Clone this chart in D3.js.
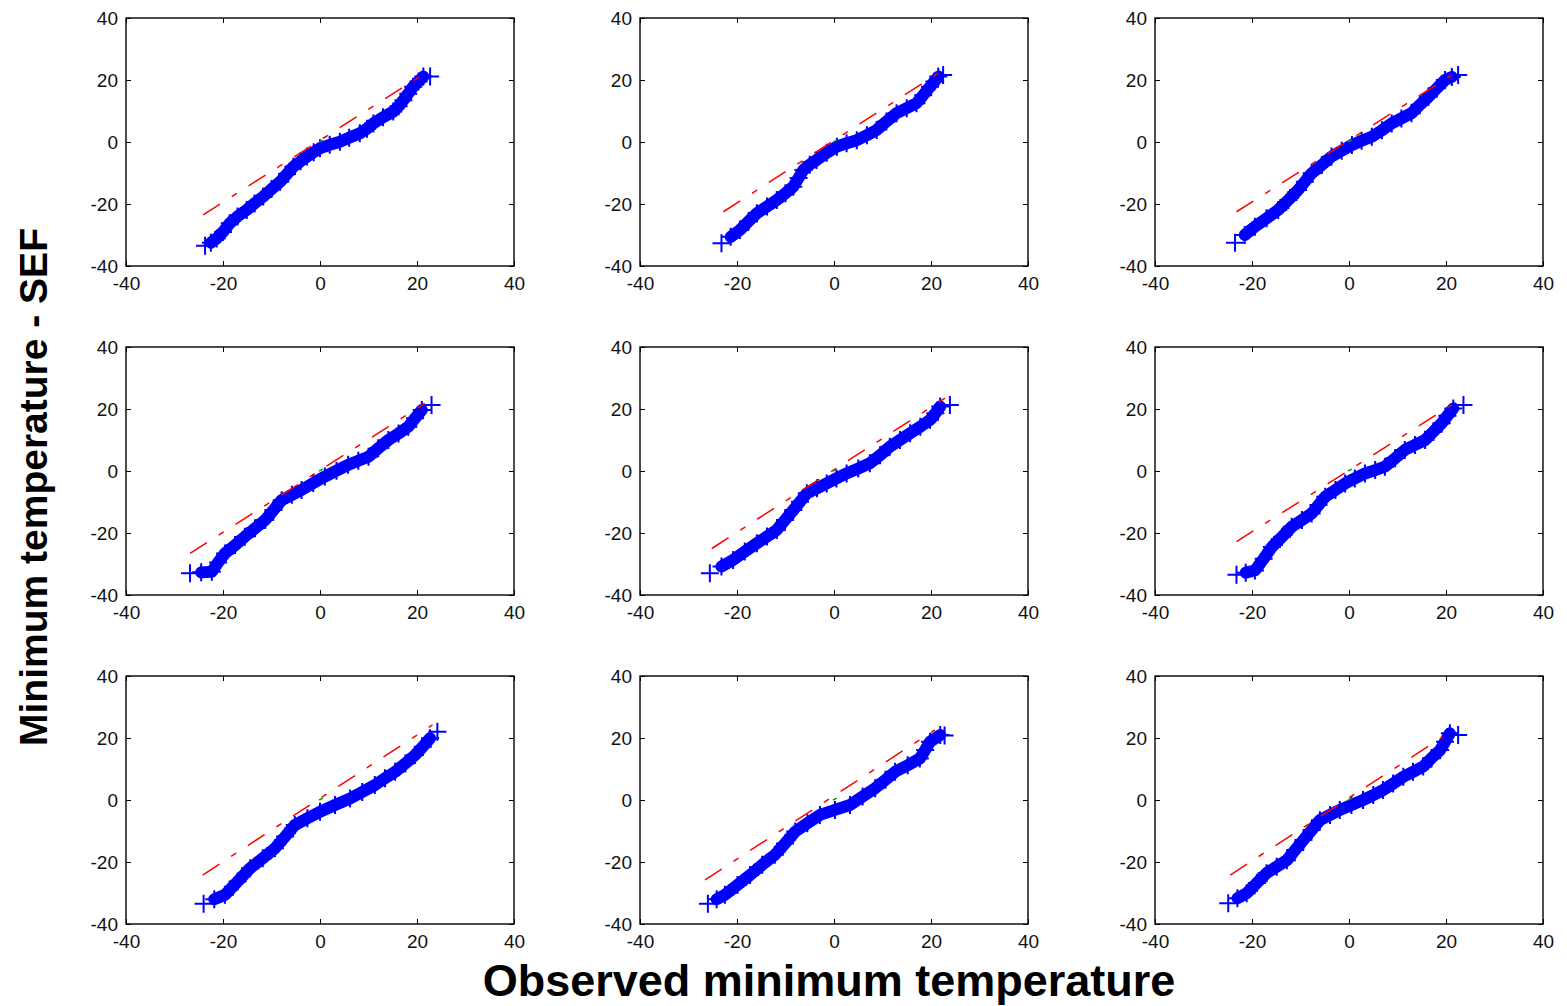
<!DOCTYPE html>
<html>
<head>
<meta charset="utf-8">
<script src="https://cdnjs.cloudflare.com/ajax/libs/d3/7.8.5/d3.min.js"></script>
<style>
  body { margin: 0; background: #fff; }
  svg { display: block; }
</style>
</head>
<body>
<script>
// quantile pairs per panel: [observed, SEF]
const p1 = [[-23.7,-33.5],[-22.5,-32.5],[-21.3,-31.1],[-20,-29],[-18.6,-26.2],[-17,-24],[-15.1,-21.9],[-13.5,-19.8],[-11.7,-17.6],[-10,-15.2],[-8.2,-12.8],[-6.8,-10.3],[-5.5,-8.0],[-4,-6.2],[-2.7,-4.7],[-1.3,-3.3],[0,-2.0],[2,-0.9],[4.1,0.1],[6,1.4],[8.2,2.8],[9.7,4.3],[11,6.0],[13,8.0],[15.1,9.8],[16.2,11.5],[17.2,13.5],[18.2,15.6],[19.2,17.8],[20.3,19.5],[21.3,21.1],[22.7,21.1]];
const p2 = [[-23.2,-32.7],[-21.3,-30.6],[-19.4,-28.4],[-17.6,-25.6],[-15.9,-23.0],[-13.8,-20.8],[-11.8,-18.7],[-10,-16.5],[-8.4,-14.4],[-7.3,-11.6],[-6.3,-9.0],[-5,-7.3],[-3.6,-5.8],[-1.5,-3.5],[0.6,-1.5],[2.6,-0.4],[4.7,0.6],[6.8,2.2],[8.8,3.9],[10.8,6.6],[12.9,9.3],[15,10.9],[17,12.5],[18.4,15.1],[19.8,17.8],[20.7,19.5],[21.5,21.1],[22.5,21.6]];
const p3 = [[-23.5,-32.5],[-21.5,-30],[-19.4,-27.3],[-17,-24.6],[-14.6,-21.9],[-12.5,-18.7],[-10.5,-15.5],[-9.1,-12.8],[-7.7,-10.1],[-5.6,-7.4],[-3.6,-4.7],[-1.5,-2.8],[0.6,-1.0],[2.6,0.4],[4.7,1.7],[6.8,3.8],[8.8,6.0],[10.8,7.6],[12.9,9.3],[14.6,12.0],[16.4,14.6],[18.1,17.3],[19.8,20.0],[21.2,21.0],[22.5,21.6]];
const p4 = [[-26.8,-33.0],[-24.5,-32.7],[-22.3,-32.5],[-21,-29.5],[-19.6,-26.6],[-17.5,-23.9],[-15.5,-21.2],[-13.4,-18.5],[-11.3,-15.8],[-9.6,-12.6],[-7.9,-9.4],[-5.8,-7.7],[-3.8,-6.1],[-1.4,-3.9],[1.0,-1.8],[3.4,0.1],[5.8,2.0],[7.9,3.3],[10,4.6],[12,7.3],[14.1,10.0],[16.2,12.1],[18.2,14.3],[19.6,17.0],[21,19.7],[23,21.3]];
const p5 = [[-25.6,-33.0],[-23.2,-30.8],[-20.8,-28.7],[-18.4,-26],[-15.9,-23.3],[-13.8,-21.1],[-11.8,-19.0],[-10.1,-15.8],[-8.4,-12.6],[-7,-9.9],[-5.6,-7.2],[-3.5,-5.6],[-1.5,-4.0],[0.5,-2.4],[2.6,-0.8],[5,0.8],[7.4,2.5],[9.5,5.1],[11.5,7.8],[13.6,10.0],[15.7,12.2],[17.8,14.3],[19.8,16.5],[20.9,18.6],[21.9,20.8],[23.9,21.3]];
const p6 = [[-23.2,-33.5],[-21.3,-32.8],[-19.4,-32.1],[-17.6,-28.3],[-15.9,-24.5],[-13.8,-21.2],[-11.8,-18.0],[-9.7,-15.8],[-7.7,-13.7],[-6.3,-11.0],[-4.9,-8.3],[-2.8,-6.1],[-0.8,-4.0],[1.2,-2.4],[3.3,-0.8],[5.4,0.3],[7.4,1.4],[9.5,4.1],[11.5,6.8],[13.6,8.4],[15.7,10.0],[17.4,12.7],[19.1,15.4],[20.3,17.8],[21.5,20.2],[23.6,21.3]];
const p7 = [[-24,-33.5],[-21.8,-32],[-19.6,-30.6],[-17,-26.3],[-14.4,-22.0],[-11.8,-18.8],[-9.3,-15.6],[-7.2,-11.8],[-5.2,-8.1],[-2.6,-5.9],[0,-3.8],[3.1,-1.6],[6.2,0.5],[8.7,2.6],[11.3,4.8],[13.4,7.0],[15.5,9.1],[17.6,11.8],[19.6,14.5],[21.2,17.2],[22.7,19.9],[24.2,22.0]];
const p8 = [[-26,-33.5],[-24.2,-32],[-22.5,-30.6],[-19.9,-27.4],[-17.3,-24.2],[-14.8,-20.9],[-12.2,-17.7],[-10.1,-14.0],[-8.0,-10.2],[-5.5,-7.5],[-2.9,-4.8],[0.2,-3.2],[3.3,-1.6],[5.9,1.1],[8.5,3.8],[10.6,6.5],[12.6,9.1],[15.2,11.2],[17.7,13.4],[18.8,16.1],[19.8,18.8],[21.9,21.0],[22.8,20.8]];
const p9 = [[-24.9,-33.3],[-23,-31.7],[-21.1,-30.1],[-19,-26.8],[-17.0,-23.6],[-14.9,-21.5],[-12.8,-19.4],[-11.1,-16.1],[-9.4,-12.9],[-7.7,-9.7],[-6.0,-6.5],[-3.9,-4.8],[-1.9,-3.2],[0.5,-1.6],[2.9,0],[5,1.6],[7.0,3.2],[9.1,5.3],[11.2,7.5],[13.2,9.1],[15.3,10.8],[17.0,13.5],[18.8,16.1],[19.8,18.8],[20.8,21.5],[22.5,21.0]];

// red dash-dot reference line ends per panel
const refX0 = [-24.1, -22.8, -23.2, -26.8, -25.2, -23.2, -24.2, -26.6, -24.5];
const refY0 = [-23.5, -22.5, -22.5, -26.6, -25.0, -22.8, -24.2, -25.8, -24.2];
const refX1 = [20.6, 21.5, 21.2, 21.6, 22.9, 21.2, 23.2, 20.8, 19.4];
const refY1 = [21.1, 22.2, 21.6, 21.8, 23.5, 21.3, 24.2, 22.6, 20.4];

const ticks = [-40, -20, 0, 20, 40];
const xTitle = 'Observed minimum temperature';
const yTitle = 'Minimum temperature - SEF';

const panels = [p1, p2, p3, p4, p5, p6, p7, p8, p9];

const W = 1567, H = 1006;
const lefts = [126, 640, 1155];
const tops = [18, 347, 676];
const pw = 388, ph = 248;
const font = '"Liberation Sans", Arial, sans-serif';

const svg = d3.select('body').append('svg')
  .attr('width', W)
  .attr('height', H);

svg.append('rect').attr('width', W).attr('height', H).attr('fill', '#fff');

const x = d3.scaleLinear().domain([-40, 40]).range([0, pw]);
const y = d3.scaleLinear().domain([-40, 40]).range([ph, 0]);

const band = d3.line().x(d => x(d[0])).y(d => y(d[1]));
const plain = d => String(d);

panels.forEach((pts, i) => {
  const col = i % 3, row = Math.floor(i / 3);
  const g = svg.append('g')
    .attr('transform', 'translate(' + lefts[col] + ',' + tops[row] + ')');

  // axes with inward ticks on all four sides
  const styleAxis = sel => {
    sel.select('.domain').remove();
    sel.selectAll('line').attr('stroke', '#000').attr('stroke-width', 1);
    sel.selectAll('text').attr('font-family', font).attr('font-size', 19).attr('fill', '#111');
  };
  g.append('g').attr('transform', 'translate(0,' + ph + ')')
    .call(d3.axisBottom(x).tickValues(ticks).tickFormat(plain).tickSizeInner(-5).tickSizeOuter(0).tickPadding(11))
    .call(styleAxis);
  g.append('g')
    .call(d3.axisLeft(y).tickValues(ticks).tickFormat(plain).tickSizeInner(-5).tickSizeOuter(0).tickPadding(8))
    .call(styleAxis);
  g.append('g')
    .call(d3.axisTop(x).tickValues(ticks).tickSizeInner(-5).tickSizeOuter(0).tickFormat(''))
    .call(styleAxis);
  g.append('g').attr('transform', 'translate(' + pw + ',0)')
    .call(d3.axisRight(y).tickValues(ticks).tickSizeInner(-5).tickSizeOuter(0).tickFormat(''))
    .call(styleAxis);

  g.append('rect')
    .attr('width', pw).attr('height', ph)
    .attr('fill', 'none').attr('stroke', '#000').attr('stroke-width', 1.4);

  // dense marker band
  g.append('path')
    .datum(pts.slice(1, -1))
    .attr('d', band)
    .attr('fill', 'none')
    .attr('stroke', '#0000ff')
    .attr('stroke-width', 12)
    .attr('stroke-linejoin', 'round')
    .attr('stroke-linecap', 'round');

  g.selectAll('path.pt')
    .data(pts)
    .enter().append('path')
    .attr('class', 'pt')
    .attr('transform', d => 'translate(' + x(d[0]) + ',' + y(d[1]) + ')')
    .attr('d', 'M-9,0H9M0,-9V9')
    .attr('stroke', '#0000ff')
    .attr('stroke-width', 2);

  // red dash-dot line
  g.append('line')
    .attr('x1', x(refX0[i])).attr('y1', y(refY0[i]))
    .attr('x2', x(refX1[i])).attr('y2', y(refY1[i]))
    .attr('stroke', '#ff0000').attr('stroke-width', 1.5)
    .attr('stroke-dasharray', '20,14,6,14');

  // small green segment near origin
  g.append('line')
    .attr('x1', x(-0.2)).attr('y1', y(0))
    .attr('x2', x(0.6)).attr('y2', y(0.6))
    .attr('stroke', '#00a000').attr('stroke-width', 1.5);
});

svg.append('text')
  .attr('x', 829).attr('y', 996)
  .attr('text-anchor', 'middle')
  .attr('font-family', font).attr('font-weight', 'bold').attr('font-size', 45)
  .attr('fill', '#000')
  .text(xTitle);

svg.append('text')
  .attr('transform', 'translate(47,487) rotate(-90)')
  .attr('text-anchor', 'middle')
  .attr('font-family', font).attr('font-weight', 'bold').attr('font-size', 39)
  .attr('fill', '#000')
  .text(yTitle);
</script>
</body>
</html>
